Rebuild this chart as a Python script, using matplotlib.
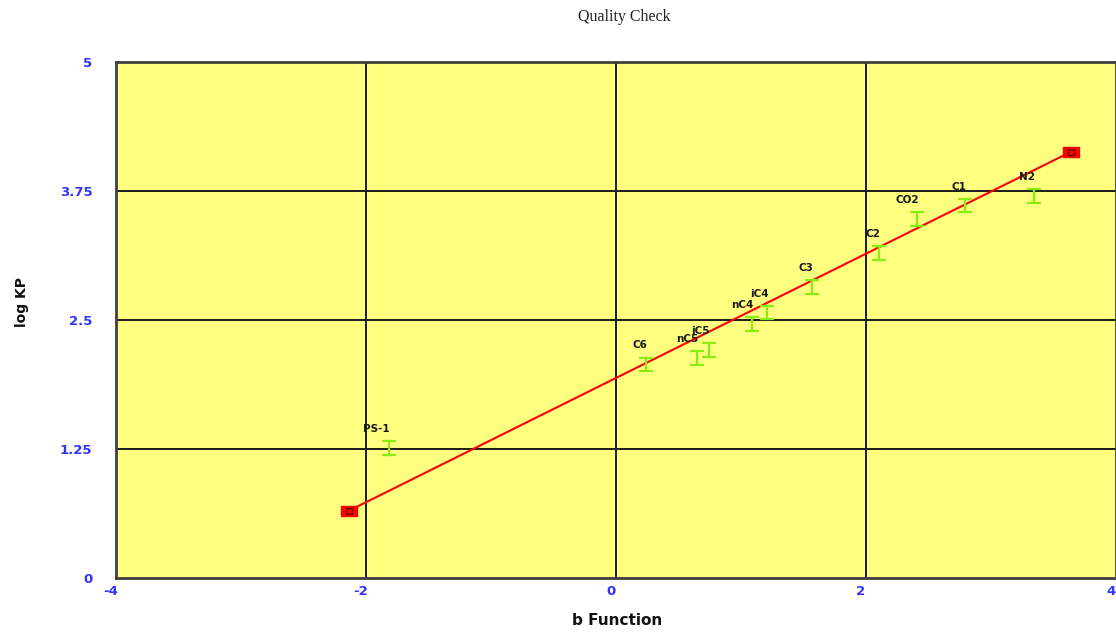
import matplotlib
matplotlib.use("Agg")
import matplotlib.pyplot as plt
from matplotlib.transforms import ScaledTranslation

# Components: b function vs log KP with uncertainty
components = ["PS-1", "C6", "nC5", "iC5", "nC4", "iC4", "C3", "C2", "CO2", "C1", "N2"]
b_values = [-1.82, 0.24, 0.65, 0.74, 1.09, 1.21, 1.57, 2.10, 2.41, 2.79, 3.34]
log_kp = [1.26, 2.07, 2.13, 2.21, 2.46, 2.57, 2.82, 3.15, 3.48, 3.61, 3.70]
log_kp_err = [0.065] * len(components)

# Regression line end points
fit_x = [-2.14, 3.64]
fit_y = [0.65, 4.13]

x_ticks = [-4, -2, 0, 2, 4]
x_tick_labels = ["-4", "-2", "0", "2", "4"]
y_ticks = [0, 1.25, 2.5, 3.75, 5]
y_tick_labels = ["0", "1.25", "2.5", "3.75", "5"]

narrow = ["DejaVu Sans", "Liberation Sans"]

fig = plt.figure(figsize=(11.16, 6.35), dpi=100)
ax = fig.add_axes([116 / 1116, 57 / 635, 1000 / 1116, 516 / 635])
ax.set_facecolor("#FFFF80")
ax.set_xlim(-4, 4)
ax.set_ylim(0, 5)

# grid
for gx in [-2, 0, 2]:
    ax.axvline(gx, color="#1a1a1a", lw=1.4, zorder=1)
for gy in [1.25, 2.5, 3.75]:
    ax.axhline(gy, color="#1a1a1a", lw=1.4, zorder=1)

for side, sp in ax.spines.items():
    sp.set_color("#404040")
    sp.set_linewidth(2)

ax.set_xticks(x_ticks)
ax.set_xticklabels(x_tick_labels)
ax.set_yticks(y_ticks)
ax.set_yticklabels(y_tick_labels)
ax.tick_params(length=0, colors="#3333FF", labelsize=9.5)
ax.tick_params(axis="x", pad=5)
ax.tick_params(axis="y", pad=17)
for lab in ax.get_xticklabels() + ax.get_yticklabels():
    lab.set_family(narrow)
    lab.set_fontweight("bold")
    lab.set_color("#3333FF")
shift = ScaledTranslation(-5 / 100, 0, fig.dpi_scale_trans)
for lab in ax.get_xticklabels():
    lab.set_transform(lab.get_transform() + shift)

# fitted line with end markers
ax.plot(fit_x, fit_y, color="#FF0000", lw=1.5, zorder=3)
rect = [(-1.5, -1), (1.5, -1), (1.5, 1), (-1.5, 1), (-1.5, -1)]
ax.plot(fit_x, fit_y, linestyle="none", marker=rect, markersize=11,
        markerfacecolor="#FF0000", markeredgecolor="#FF0000", zorder=4)
ax.plot(fit_x, fit_y, linestyle="none", marker="s", markersize=5,
        markerfacecolor="none", markeredgecolor="#700000", markeredgewidth=1, zorder=5)

# error bars
ax.errorbar(b_values, log_kp, yerr=log_kp_err, fmt="none", ecolor="#88EE11",
            elinewidth=1.6, capsize=5, capthick=1.6, zorder=3)

for name, bx, ly in zip(components, b_values, log_kp):
    ax.annotate(name, (bx, ly), xytext=(1, 10), textcoords="offset points",
                ha="right", va="bottom", fontsize=7.5, fontweight="bold",
                family=narrow, color="#1a1a1a", zorder=6)

ax.set_xlabel("b Function", family=narrow, fontweight="bold", fontsize=11,
              color="#111111")
ax.xaxis.label.set_va("center")
ax.xaxis.set_label_coords(0.501, -0.083)
ax.set_ylabel("log KP", family=narrow, fontweight="bold", fontsize=10,
              color="#111111")
ax.yaxis.label.set_va("center")
ax.yaxis.set_label_coords(-0.094, 0.535)

fig.text(624 / 1116, 1 - 17 / 635, "Quality Check", ha="center", va="center",
         family=["Liberation Serif", "DejaVu Serif"], fontsize=11.5, color="#222222")

fig.savefig("out.png", dpi=100)
